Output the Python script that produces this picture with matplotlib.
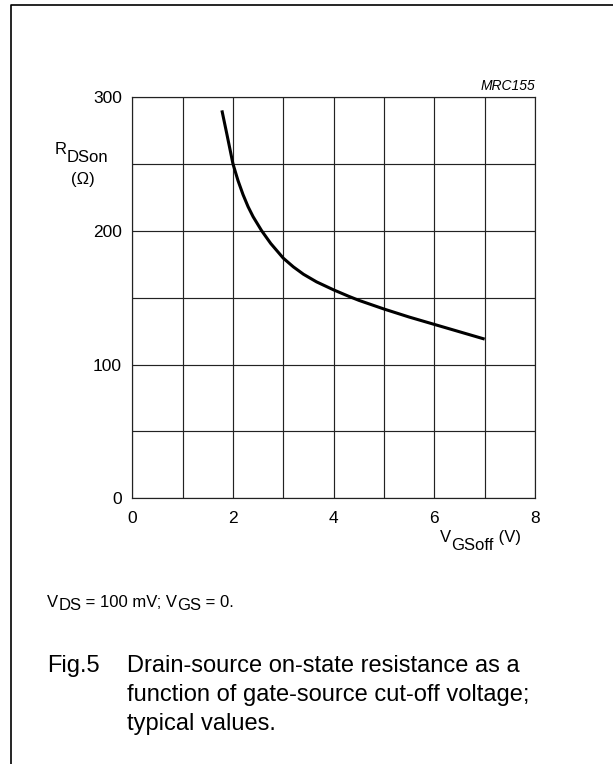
import numpy as np
import matplotlib.pyplot as plt
from matplotlib.ticker import MultipleLocator

# RDSon curve (VGSoff in V, RDSon in ohm)
v_gsoff = [1.78, 1.88, 2.0, 2.1, 2.2, 2.3, 2.4, 2.57, 2.75, 3.0, 3.2, 3.4, 3.66, 4.0,
           4.3, 4.5, 5.0, 5.5, 6.0, 6.5, 7.0]
r_dson = [290, 272, 250, 237.5, 227, 218, 210.5, 200, 190.5, 179.5, 173, 167.5, 161.8, 155.8,
          151, 148, 141.5, 135.5, 130, 124.5, 119]

x_ticks = [0, 2, 4, 6, 8]
y_ticks = [0, 100, 200, 300]

W, H = 613, 764
plt.rcParams['font.family'] = ['Liberation Sans', 'DejaVu Sans']

fig = plt.figure(figsize=(W / 100, H / 100), dpi=100)

# overlay in pixel units for frame and free text
ov = fig.add_axes([0, 0, 1, 1])
ov.set_xlim(0, W)
ov.set_ylim(H, 0)
ov.axis('off')
ov.plot([11, 11, W], [H, 5, 5], color='black', lw=1.2, solid_capstyle='butt')

ax = fig.add_axes([132.3 / W, 1 - 498.3 / H, (535 - 132.3) / W, (498.3 - 97) / H])
ax.plot(v_gsoff, r_dson, color='black', lw=2.2, solid_capstyle='butt', solid_joinstyle='round')
ax.set_xlim(0, 8)
ax.set_ylim(0, 300)
ax.set_xticks(x_ticks)
ax.set_yticks(y_ticks)
ax.xaxis.set_minor_locator(MultipleLocator(1))
ax.yaxis.set_minor_locator(MultipleLocator(50))
ax.grid(which='both', color='#222222', lw=0.85)
ax.tick_params(which='both', length=0)
ax.tick_params(axis='x', pad=9, labelsize=12.5)
ax.tick_params(axis='y', pad=7.5, labelsize=12.5)
for s in ax.spines.values():
    s.set_color('#222222')
    s.set_linewidth(0.85)


def rich(x, y, parts, size):
    # parts: list of (text, baseline shift in px)
    t = ov.text(x, y + parts[0][1], parts[0][0], fontsize=size, va='baseline', ha='left')
    for s, dy in parts[1:]:
        t = ov.annotate(s, xy=(1, y + dy), xycoords=(t, 'data'), fontsize=size,
                        va='baseline', ha='left', annotation_clip=False)
    return t


ov.text(535, 90.5, 'MRC155', fontsize=10, style='italic', ha='right', va='baseline')

# y axis label
rich(55, 154.5, [('R', 0), ('DSon', 7)], 12)
ov.text(82.5, 184, '(\u03a9)', fontsize=12, ha='center', va='baseline')

# x axis label
rich(440, 541.7, [('V', 0), ('GSoff', 8.3), (' (V)', 0)], 12)

# conditions
rich(47, 607, [('V', 0), ('DS', 3), (' = 100 mV; V', 0), ('GS', 3), (' = 0.', 0)], 12)

# caption
ov.text(47, 672, 'Fig.5', fontsize=17, va='baseline')
ov.text(127, 672, 'Drain-source on-state resistance as a', fontsize=17, va='baseline')
ov.text(127, 701, 'function of gate-source cut-off voltage;', fontsize=17, va='baseline')
ov.text(127, 730, 'typical values.', fontsize=17, va='baseline')

fig.savefig('out.png', dpi=100)
